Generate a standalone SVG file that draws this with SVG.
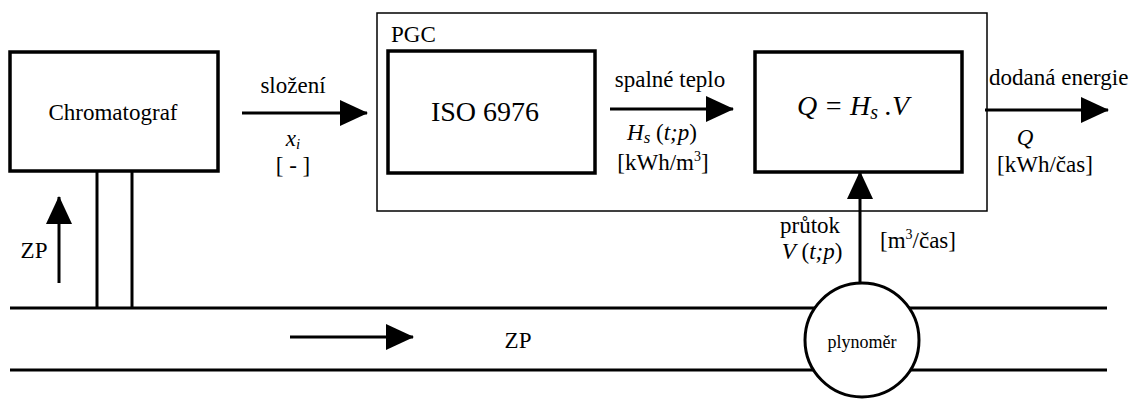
<svg xmlns="http://www.w3.org/2000/svg" width="1136" height="399" viewBox="0 0 1136 399">
<style>
text{font-family:"Liberation Serif","Tinos","Noto Serif","Times New Roman",Times,"DejaVu Serif","FreeSerif",serif;fill:#000}
.lbl{font-size:23px}
.box{fill:#fff;stroke:#000;stroke-width:3.5}
.big{font-size:28px}
.it{font-style:italic}
.ln{stroke:#000;stroke-width:3;fill:none}
</style>
<defs>
<marker id="ah" markerUnits="userSpaceOnUse" markerWidth="28" markerHeight="26" refX="27" refY="13" orient="auto">
<path d="M0,0 L28,13 L0,26 z" fill="#000"/>
</marker>
</defs>
<rect width="1136" height="399" fill="#fff"/>
<g id="pipe">
<line class="ln" x1="10" y1="308" x2="1107" y2="308"/>
<line class="ln" x1="10" y1="370" x2="1107" y2="370"/>
</g>
<g id="pgc">
<rect x="377" y="13" width="610" height="198" fill="none" stroke="#000" stroke-width="1.5"/>
<text class="lbl" x="391" y="42">PGC</text>
</g>
<g id="chromatograf">
<line class="ln" x1="97" y1="171" x2="97" y2="308"/>
<line class="ln" x1="132" y1="171" x2="132" y2="308"/>
<rect class="box" x="10" y="52" width="208" height="119"/>
<text class="lbl" x="113" y="120" text-anchor="middle">Chromatograf</text>
</g>
<g id="iso">
<rect class="box" x="388" y="51" width="207" height="122"/>
<text class="big" x="485" y="121" text-anchor="middle">ISO 6976</text>
</g>
<g id="qbox">
<rect class="box" x="755" y="52" width="207" height="120"/>
<text class="big it" x="853" y="115" text-anchor="middle">Q = H<tspan font-size="20" dy="4">s</tspan><tspan dy="-4"> .</tspan>V</text>
</g>
<g id="plynomer">
<circle cx="862" cy="340" r="57" fill="#fff" stroke="#000" stroke-width="3"/>
<text x="862" y="348" font-size="18" text-anchor="middle">plynoměr</text>
</g>
<g id="connectors">
<line class="ln" x1="242" y1="113" x2="367" y2="113" marker-end="url(#ah)"/>
<line class="ln" x1="610" y1="109" x2="733" y2="109" marker-end="url(#ah)"/>
<line class="ln" x1="985" y1="110" x2="1108" y2="110" marker-end="url(#ah)"/>
<line class="ln" x1="860" y1="283" x2="860" y2="172" marker-end="url(#ah)"/>
<line class="ln" x1="59" y1="283" x2="59" y2="197" marker-end="url(#ah)"/>
<line class="ln" x1="290" y1="337" x2="413" y2="337" marker-end="url(#ah)"/>
</g>
<g id="labels">
<text class="lbl" x="293" y="93" text-anchor="middle">složení</text>
<text class="lbl it" x="293" y="146" text-anchor="middle">x<tspan font-size="15" dy="3">i</tspan></text>
<text class="lbl" x="293" y="173" text-anchor="middle">[ - ]</text>
<text class="lbl" x="670" y="87" text-anchor="middle">spalné teplo</text>
<text class="lbl" x="662" y="140" text-anchor="middle"><tspan class="it">H</tspan><tspan class="it" font-size="17" dy="3">s</tspan><tspan dy="-3"> (</tspan><tspan class="it">t;p</tspan>)</text>
<text class="lbl" x="663" y="170" text-anchor="middle">[kWh/m<tspan font-size="14" dy="-9">3</tspan><tspan dy="9">]</tspan></text>
<text class="lbl" x="989" y="85">dodaná energie</text>
<text class="lbl it" x="1025" y="145" text-anchor="middle">Q</text>
<text class="lbl" x="1045" y="172" text-anchor="middle">[kWh/čas]</text>
<text class="lbl" x="810" y="233" text-anchor="middle">průtok</text>
<text class="lbl" x="812" y="259" text-anchor="middle"><tspan class="it">V</tspan> (<tspan class="it">t;p</tspan>)</text>
<text class="lbl" x="918" y="248" text-anchor="middle">[m<tspan font-size="14" dy="-9">3</tspan><tspan dy="9">/čas]</tspan></text>
<text class="lbl" x="34" y="258" text-anchor="middle">ZP</text>
<text class="lbl" x="518" y="348" text-anchor="middle">ZP</text>
</g>
</svg>
